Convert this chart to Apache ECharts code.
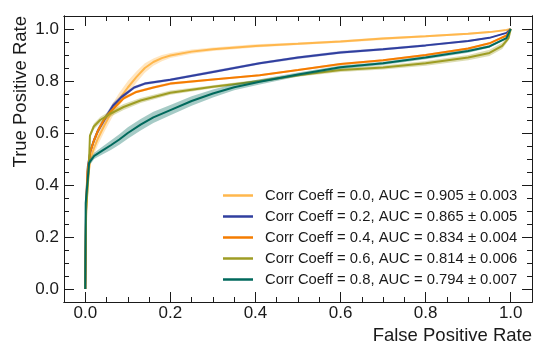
<!DOCTYPE html>
<html><head><meta charset="utf-8">
<script src="https://cdn.jsdelivr.net/npm/echarts@6/dist/echarts.min.js"></script>
<style>html,body{margin:0;padding:0;background:#fff}#c{width:533px;height:347px}</style>
</head><body><div id="c"></div>
<script>
// ---- data ----
const corrCoeffs = ['0.0', '0.2', '0.4', '0.6', '0.8'];
const aucMeans = ['0.905', '0.865', '0.834', '0.814', '0.794'];
const aucErrs = ['0.003', '0.005', '0.004', '0.006', '0.007'];

const fpr00 = [0, 0.002, 0.006, 0.012, 0.02, 0.03, 0.045, 0.065, 0.08, 0.1, 0.12, 0.14, 0.16, 0.18, 0.2, 0.25, 0.3, 0.4, 0.5, 0.6, 0.7, 0.8, 0.9, 0.95, 0.99, 1];
const tpr00 = [0, 0.3, 0.42, 0.5, 0.54, 0.58, 0.63, 0.69, 0.73, 0.775, 0.815, 0.85, 0.873, 0.888, 0.898, 0.913, 0.922, 0.935, 0.943, 0.952, 0.963, 0.972, 0.982, 0.988, 0.996, 1];
const band00 = [0, 0.01, 0.02, 0.025, 0.025, 0.025, 0.025, 0.025, 0.025, 0.025, 0.022, 0.018, 0.014, 0.012, 0.01, 0.008, 0.007, 0.006, 0.005, 0.005, 0.005, 0.004, 0.004, 0.003, 0.002, 0];

const fpr02 = [0, 0.002, 0.006, 0.012, 0.02, 0.03, 0.048, 0.065, 0.085, 0.115, 0.14, 0.2, 0.3, 0.41, 0.5, 0.6, 0.7, 0.8, 0.9, 0.95, 0.99, 1];
const tpr02 = [0, 0.33, 0.47, 0.53, 0.57, 0.61, 0.66, 0.705, 0.738, 0.775, 0.79, 0.805, 0.835, 0.868, 0.89, 0.91, 0.922, 0.937, 0.954, 0.966, 0.985, 1];
const band02 = [0, 0.005, 0.01, 0.012, 0.012, 0.012, 0.012, 0.01, 0.008, 0.006, 0.005, 0.005, 0.005, 0.005, 0.005, 0.005, 0.005, 0.004, 0.004, 0.003, 0.002, 0];

const fpr04 = [0, 0.002, 0.005, 0.012, 0.02, 0.03, 0.045, 0.06, 0.09, 0.12, 0.16, 0.2, 0.3, 0.41, 0.5, 0.6, 0.7, 0.8, 0.9, 0.95, 0.99, 1];
const tpr04 = [0, 0.33, 0.45, 0.53, 0.57, 0.61, 0.655, 0.683, 0.733, 0.758, 0.775, 0.79, 0.806, 0.822, 0.842, 0.865, 0.88, 0.9, 0.925, 0.945, 0.975, 1];
const band04 = [0, 0.005, 0.008, 0.01, 0.01, 0.01, 0.008, 0.007, 0.006, 0.005, 0.005, 0.005, 0.004, 0.004, 0.004, 0.004, 0.004, 0.004, 0.004, 0.004, 0.003, 0];

const fpr06 = [0, 0.002, 0.008, 0.011, 0.02, 0.035, 0.06, 0.09, 0.13, 0.2, 0.3, 0.41, 0.5, 0.6, 0.7, 0.8, 0.9, 0.95, 0.98, 0.995, 1];
const tpr06 = [0, 0.3, 0.45, 0.59, 0.625, 0.65, 0.675, 0.7, 0.725, 0.755, 0.778, 0.8, 0.822, 0.842, 0.852, 0.868, 0.89, 0.908, 0.935, 0.965, 1];
const band06 = [0, 0.005, 0.008, 0.01, 0.012, 0.012, 0.012, 0.012, 0.01, 0.008, 0.006, 0.006, 0.006, 0.007, 0.008, 0.009, 0.01, 0.012, 0.012, 0.008, 0];

const fpr08 = [0, 0.001, 0.009, 0.021, 0.04, 0.06, 0.08, 0.1, 0.13, 0.16, 0.2, 0.25, 0.3, 0.35, 0.41, 0.5, 0.6, 0.7, 0.8, 0.9, 0.95, 0.99, 1];
const tpr08 = [0, 0.33, 0.485, 0.512, 0.532, 0.553, 0.575, 0.6, 0.632, 0.66, 0.688, 0.723, 0.752, 0.776, 0.797, 0.825, 0.853, 0.868, 0.89, 0.915, 0.933, 0.965, 1];
const band08 = [0, 0.005, 0.012, 0.012, 0.015, 0.018, 0.02, 0.022, 0.022, 0.022, 0.02, 0.018, 0.015, 0.012, 0.01, 0.008, 0.007, 0.006, 0.006, 0.006, 0.005, 0.004, 0];

const xMajorTicks = [0, 0.2, 0.4, 0.6, 0.8, 1.0];
const yMajorTicks = [0, 0.2, 0.4, 0.6, 0.8, 1.0];
const minorTicks = [0.05, 0.1, 0.15, 0.25, 0.3, 0.35, 0.45, 0.5, 0.55, 0.65, 0.7, 0.75, 0.85, 0.9, 0.95, 1.05, -0.05].filter(v => v > -0.05 && v < 1.05);
const xTitle = 'False Positive Rate';
const yTitle = 'True Positive Rate';

// ---- styles ----
const colors = ['#ffb74d', '#303f9f', '#f57c00', '#9e9d24', '#00695c'];
const FONT = "'Liberation Sans', Arial, sans-serif";
const AX = '#1a1a1a';

const curves = [
  [fpr00, tpr00, band00], [fpr02, tpr02, band02], [fpr04, tpr04, band04],
  [fpr06, tpr06, band06], [fpr08, tpr08, band08]
];
const names = corrCoeffs.map((c, i) => 'Corr Coeff = ' + c + ', AUC = ' + aucMeans[i] + ' \u00b1 ' + aucErrs[i]);

function axisDef(dim, pos, values, len, labels) {
  return {
    type: 'value', position: pos, min: -0.05, max: 1.05,
    axisLine: { show: true, onZero: false, lineStyle: { color: AX, width: 1 } },
    axisTick: { show: true, inside: true, length: len, customValues: values, lineStyle: { color: AX, width: 1 } },
    axisLabel: { show: labels, customValues: values, margin: dim === 'x' ? 3 : 5, fontSize: 17, fontFamily: FONT, color: AX,
      formatter: v => Number(v).toFixed(1) },
    splitLine: { show: false }, minorTick: { show: false }
  };
}

const series = [];
curves.forEach((cv, k) => {
  const [f, t, b] = cv;
  const bandData = f.map((x, i) => [x, Math.max(0, t[i] - b[i]), Math.min(1, t[i] + b[i])]);
  series.push({
    type: 'custom', name: 'band' + k, silent: true, z: 2 + k * 2, xAxisIndex: 0, yAxisIndex: 0,
    data: bandData, encode: { x: 0, y: [1, 2] },
    renderItem: (params, api) => {
      if (params.dataIndex !== 0) return null;
      const up = bandData.map(d => api.coord([d[0], d[2]]));
      const lo = bandData.map(d => api.coord([d[0], d[1]])).reverse();
      return { type: 'polygon', shape: { points: up.concat(lo) }, style: { fill: colors[k], opacity: 0.35 } };
    }
  });
  series.push({
    type: 'line', name: names[k], z: 3 + k * 2, xAxisIndex: 0, yAxisIndex: 0,
    data: f.map((x, i) => [x, t[i]]), showSymbol: false, symbol: 'none',
    lineStyle: { color: colors[k], width: 2 }, itemStyle: { color: colors[k] }
  });
});

const chart = echarts.init(document.getElementById('c'), null, { renderer: 'canvas' });
chart.setOption({
  animation: false,
  backgroundColor: '#fff',
  grid: { left: 64, top: 16, width: 468, height: 286, containLabel: false },
  xAxis: [
    axisDef('x', 'bottom', xMajorTicks, 10, true),
    axisDef('x', 'bottom', minorTicks, 5, false),
    axisDef('x', 'top', xMajorTicks, 10, false),
    axisDef('x', 'top', minorTicks, 5, false)
  ],
  yAxis: [
    axisDef('y', 'left', yMajorTicks, 10, true),
    axisDef('y', 'left', minorTicks, 5, false),
    axisDef('y', 'right', yMajorTicks, 10, false),
    axisDef('y', 'right', minorTicks, 5, false)
  ],
  legend: {
    data: names, orient: 'vertical', left: 223, top: 185, padding: 0, itemGap: 0,
    icon: 'rect', itemWidth: 30, itemHeight: 2.5,
    textStyle: { fontSize: 14.8, fontFamily: FONT, color: AX, lineHeight: 21, padding: [0, 0, 0, 7] }
  },
  graphic: [
    { type: 'text', x: 532, y: 336, style: { text: xTitle, fontSize: 18.5, fontFamily: FONT, fill: AX, align: 'right', verticalAlign: 'middle' } },
    { type: 'text', x: 20.5, y: 16, rotation: Math.PI / 2, style: { text: yTitle, fontSize: 18.5, fontFamily: FONT, fill: AX, align: 'right', verticalAlign: 'middle' } }
  ],
  series: series
});
</script>
</body></html>
